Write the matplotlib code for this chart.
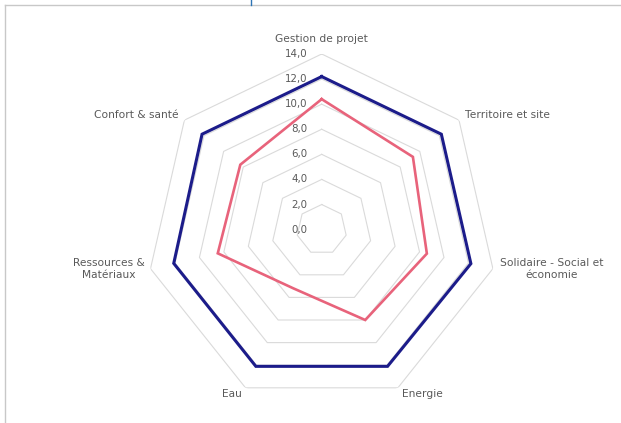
"""Radar chart -- scores per theme, two series (max vs obtained)."""
import numpy as np
import matplotlib
matplotlib.use("Agg")
import matplotlib.pyplot as plt
from matplotlib.lines import Line2D
from matplotlib.transforms import offset_copy

# ---------------------------------------------------------------- data
categories = [
    "Gestion de projet",
    "Territoire et site",
    "Solidaire - Social et\néconomie",
    "Energie",
    "Eau",
    "Ressources &\nMatériaux",
    "Confort & santé",
]
score_max = [12.2, 12.2, 12.2, 12.1, 12.1, 12.1, 12.2]
score_obtenu = [10.4, 9.3, 8.6, 8.0, 5.2, 8.5, 8.3]
ticks = [0.0, 2.0, 4.0, 6.0, 8.0, 10.0, 12.0, 14.0]
tick_labels = [f"{t:.1f}".replace(".", ",") for t in ticks]

BLUE = "#1c1c8a"
PINK = "#e8637b"
GRID = "#dadada"
TEXT = "#595959"

plt.rcParams["font.family"] = ["DejaVu Sans"]

W, H = 621, 423
fig = plt.figure(figsize=(W / 100, H / 100), dpi=100)

# chart centre ~ (322, 230) px, outer radius ~176 px
cx, cy, R = 321.7, 229.6, 175.6
ax = fig.add_axes([(cx - R) / W, (H - cy - R) / H, 2 * R / W, 2 * R / H],
                  projection="polar")
ax.set_theta_zero_location("N")
ax.set_theta_direction(-1)
ax.set_ylim(0, ticks[-1])
ax.grid(False)
ax.spines["polar"].set_visible(False)
ax.set_xticks([])
ax.set_yticks([])
ax.patch.set_alpha(0)

n = len(categories)
theta = np.linspace(0, 2 * np.pi, n, endpoint=False)
theta_c = np.append(theta, theta[0])

# heptagon grid
for t in ticks[1:]:
    ax.plot(theta_c, [t] * (n + 1), color=GRID, lw=0.8, zorder=1)

# tick labels left of the vertical axis
tlab = offset_copy(ax.transData, fig=fig, x=-14, y=0, units="dots")
for t, lab in zip(ticks, tick_labels):
    ax.text(0, t, lab, transform=tlab, ha="right", va="center",
            fontsize=7.4, color=TEXT)

# series
ax.plot(theta_c, score_max + score_max[:1], color=BLUE, lw=2.2, zorder=3,
        solid_joinstyle="miter")
ax.plot(theta_c, score_obtenu + score_obtenu[:1], color=PINK, lw=1.9,
        zorder=4, solid_joinstyle="miter")

# category labels around the outer ring
label_pos = [
    (0, 15, "center"),
    (6, 5, "left"),
    (7, 0, "left"),
    (4, -6, "left"),
    (-4, -6, "right"),
    (-6, 0, "right"),
    (-6, 5, "right"),
]
for th, lab, (dx, dy, ha) in zip(theta, categories, label_pos):
    tr = offset_copy(ax.transData, fig=fig, x=dx, y=dy, units="dots")
    ax.text(th, ticks[-1], lab, transform=tr, ha=ha, va="center",
            multialignment="center", fontsize=7.7, color=TEXT,
            linespacing=1.25)

# frame of the surrounding document
fig.add_artist(Line2D([5 / W, 1], [1 - 5 / H, 1 - 5 / H],
                      color="#c8c8c8", lw=1.0))
fig.add_artist(Line2D([5 / W, 5 / W], [0, 1 - 5 / H],
                      color="#c8c8c8", lw=1.0))
fig.add_artist(Line2D([251 / W, 251 / W], [1 - 5 / H, 1],
                      color="#2e75b6", lw=1.0))

fig.savefig("out.png", dpi=100, facecolor="white")
